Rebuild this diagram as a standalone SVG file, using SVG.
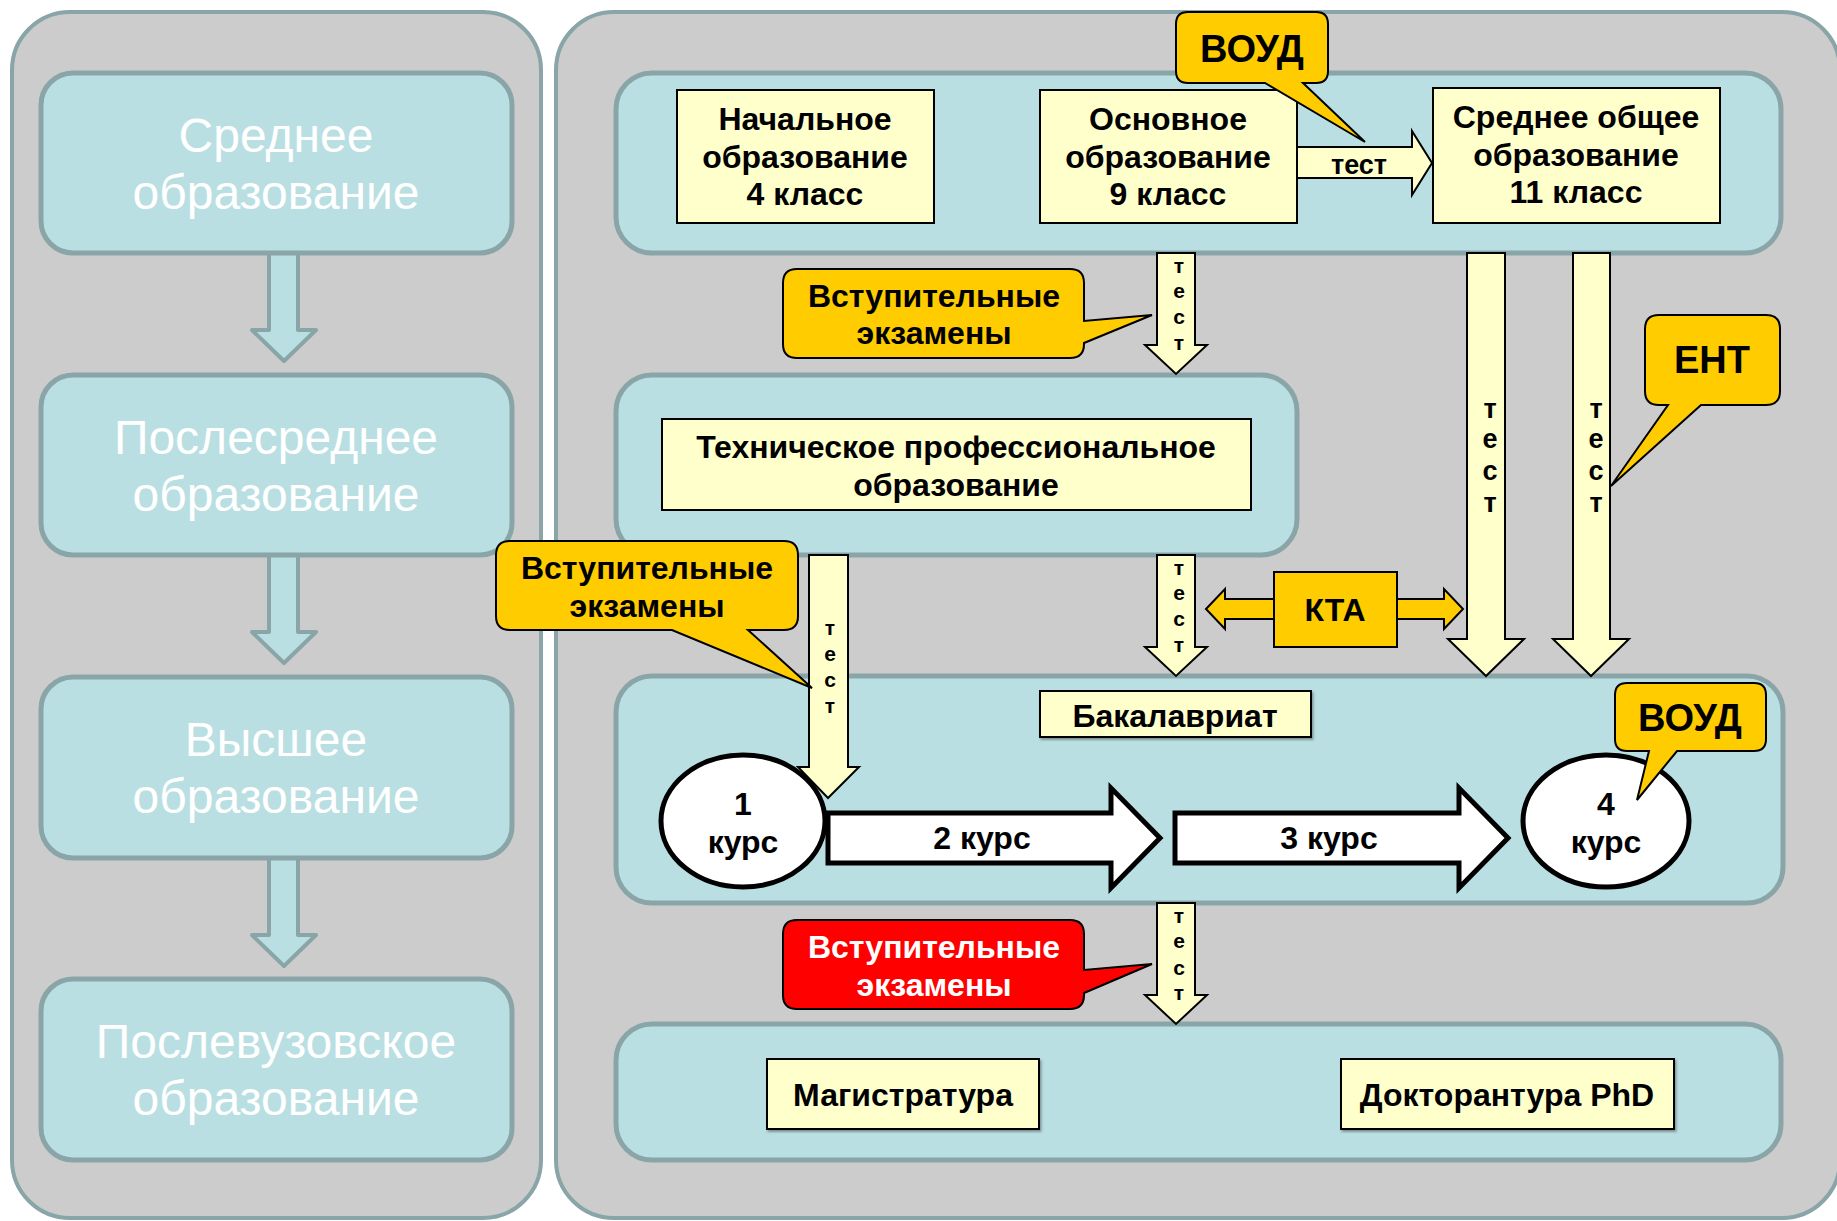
<svg xmlns="http://www.w3.org/2000/svg" width="1837" height="1221" viewBox="0 0 1837 1221">
<style>
.panel{fill:#cccccc;stroke:#8aa5a8;stroke-width:4}
.lbox{fill:#b9dfe2;stroke:#8aa5a8;stroke-width:5}
.ltxt{font-family:"Liberation Sans",Arial,sans-serif;font-size:48px;fill:#fff;text-anchor:middle}
.larrow{fill:#b9dfe2;stroke:#8aa5a8;stroke-width:4;stroke-linejoin:round}
.blue{fill:#b9dfe2;stroke:#8aa5a8;stroke-width:5}
.yb{fill:#ffffcc;stroke:#000;stroke-width:2}
.t{font-family:"Liberation Sans",Arial,sans-serif;font-weight:bold;font-size:32px;fill:#000;text-anchor:middle}
.tw{fill:#fff}
.big{font-size:38px}
.sm{font-size:21px}
.md{font-size:32px}
.ts{font-size:27px}
.callout{fill:#ffcc00;stroke:#000;stroke-width:2}
.red{fill:#ff0000}
.ya{fill:#ffffcc;stroke:#000;stroke-width:2;stroke-linejoin:miter}
.kta{fill:#ffcc00;stroke:#000;stroke-width:2}
.wa{fill:#fff;stroke:#000;stroke-width:5;stroke-linejoin:miter}
.circ{fill:#fff;stroke:#000;stroke-width:5}
</style>
<defs>
<filter id="sh" x="-5%" y="-5%" width="110%" height="120%">
<feDropShadow dx="1.5" dy="2" stdDeviation="0.8" flood-color="#444" flood-opacity="0.5"/>
</filter>
</defs>
<rect width="1837" height="1221" fill="#fff"/>

<g id="left-panel">
<rect class="panel" x="12" y="12" width="529" height="1206" rx="58"/>
</g>
<g id="right-panel">
<rect class="panel" x="556" y="12" width="1284" height="1206" rx="58"/>
</g>

<g id="left-connectors">
<path class="larrow" d="M269,251 V330 H252 L284,361 L316,330 H298 V251"/>
<path class="larrow" d="M269,553 V632 H252 L284,663 L316,632 H298 V553"/>
<path class="larrow" d="M269,856 V935 H252 L284,966 L316,935 H298 V856"/>
</g>

<g id="l-srednee">
<rect class="lbox" x="41" y="73" width="471" height="180" rx="32"/>
<text class="ltxt" x="276" y="152">Среднее</text>
<text class="ltxt" x="276" y="209">образование</text>
</g>
<g id="l-poslesrednee">
<rect class="lbox" x="41" y="375" width="471" height="180" rx="32"/>
<text class="ltxt" x="276" y="454">Послесреднее</text>
<text class="ltxt" x="276" y="511">образование</text>
</g>
<g id="l-vysshee">
<rect class="lbox" x="41" y="677" width="471" height="181" rx="32"/>
<text class="ltxt" x="276" y="756">Высшее</text>
<text class="ltxt" x="276" y="813">образование</text>
</g>
<g id="l-poslevuz">
<rect class="lbox" x="41" y="979" width="471" height="181" rx="32"/>
<text class="ltxt" x="276" y="1058">Послевузовское</text>
<text class="ltxt" x="276" y="1115">образование</text>
</g>

<g id="school">
<rect class="blue" x="616" y="73" width="1165" height="180" rx="36"/>
</g>
<g id="nachalnoe">
<rect class="yb" x="677" y="90" width="257" height="133"/>
<text class="t" x="805" y="130">Начальное</text>
<text class="t" x="805" y="168">образование</text>
<text class="t" x="805" y="205">4 класс</text>
</g>
<g id="osnovnoe">
<rect class="yb" x="1040" y="90" width="257" height="133"/>
<text class="t" x="1168" y="130">Основное</text>
<text class="t" x="1168" y="168">образование</text>
<text class="t" x="1168" y="205">9 класс</text>
</g>
<g id="srednee-obshee">
<rect class="yb" x="1433" y="88" width="287" height="135"/>
<text class="t" x="1576" y="128">Среднее общее</text>
<text class="t" x="1576" y="166">образование</text>
<text class="t" x="1576" y="203">11 класс</text>
</g>

<g id="tech">
<rect class="blue" x="616" y="375" width="681" height="180" rx="36"/>
<rect class="yb" x="662" y="419" width="589" height="91"/>
<text class="t" x="956" y="458">Техническое профессиональное</text>
<text class="t" x="956" y="496">образование</text>
</g>

<g id="bakalavriat">
<rect class="blue" x="616" y="676" width="1167" height="227" rx="36"/>
<rect class="yb" x="1040" y="691" width="271" height="46" filter="url(#sh)"/>
<text class="t md" x="1175" y="727">Бакалавриат</text>
</g>
<g id="kurs1">
<ellipse class="circ" cx="743" cy="821" rx="82" ry="66"/>
<text class="t md" x="743" y="815">1</text>
<text class="t md" x="743" y="853">курс</text>
</g>
<g id="kurs4">
<ellipse class="circ" cx="1606" cy="821" rx="83" ry="66"/>
<text class="t md" x="1606" y="815">4</text>
<text class="t md" x="1606" y="853">курс</text>
</g>

<g id="postgrad">
<rect class="blue" x="616" y="1024" width="1165" height="136" rx="36"/>
</g>
<g id="magistratura">
<rect class="yb" x="767" y="1059" width="272" height="70" filter="url(#sh)"/>
<text class="t md" x="903" y="1106">Магистратура</text>
</g>
<g id="doktorantura">
<rect class="yb" x="1341" y="1059" width="333" height="70" filter="url(#sh)"/>
<text class="t md" x="1507" y="1106">Докторантура PhD</text>
</g>

<g id="connectors">
<path class="ya" d="M1297,147 H1412 V131 L1432,163 L1412,195 V178 H1297 Z"/>
<text class="t ts" x="1359" y="174">тест</text>

<path class="ya" d="M1157,253 V345 H1145 L1176,374 L1207,345 H1195 V253 Z"/>
<text class="t sm"><tspan x="1179" y="273">т</tspan><tspan x="1179" y="298">е</tspan><tspan x="1179" y="324">с</tspan><tspan x="1179" y="350">т</tspan></text>

<path class="ya" d="M1157,555 V647 H1145 L1176,676 L1207,647 H1195 V555 Z"/>
<text class="t sm"><tspan x="1179" y="575">т</tspan><tspan x="1179" y="600">е</tspan><tspan x="1179" y="626">с</tspan><tspan x="1179" y="652">т</tspan></text>

<path class="ya" d="M1157,903 V995 H1145 L1176,1024 L1207,995 H1195 V903 Z"/>
<text class="t sm"><tspan x="1179" y="923">т</tspan><tspan x="1179" y="948">е</tspan><tspan x="1179" y="975">с</tspan><tspan x="1179" y="1000">т</tspan></text>

<path class="ya" d="M809,555 V767 H798 L828,798 L859,767 H848 V555 Z"/>
<text class="t sm"><tspan x="830" y="635">т</tspan><tspan x="830" y="661">е</tspan><tspan x="830" y="687">с</tspan><tspan x="830" y="713">т</tspan></text>

<path class="ya" d="M1467,253 V639 H1448 L1486,676 L1524,639 H1505 V253 Z"/>
<text class="t ts"><tspan x="1490" y="418">т</tspan><tspan x="1490" y="448">е</tspan><tspan x="1490" y="480">с</tspan><tspan x="1490" y="512">т</tspan></text>

<path class="ya" d="M1573,253 V639 H1553 L1591,676 L1629,639 H1610 V253 Z"/>
<text class="t ts"><tspan x="1596" y="418">т</tspan><tspan x="1596" y="448">е</tspan><tspan x="1596" y="480">с</tspan><tspan x="1596" y="512">т</tspan></text>

<path class="kta" d="M1206,609 L1225,589 V599 H1444 V589 L1463,609 L1444,629 V619 H1225 V629 Z"/>

<path class="wa" d="M828,813 H1111 V788 L1160,838 L1111,888 V863 H828 Z"/>
<text class="t md" x="982" y="849">2 курс</text>
<path class="wa" d="M1175,813 H1459 V788 L1508,838 L1459,888 V863 H1175 Z"/>
<text class="t md" x="1329" y="849">3 курс</text>
</g>

<g id="kta">
<rect class="kta" x="1274" y="572" width="123" height="75"/>
<text class="t" x="1335" y="621">КТА</text>
</g>

<g id="callout-voud-top">
<path class="callout" d="M1188,12 H1316 Q1328,12 1328,24 V71 Q1328,83 1316,83 H1303 L1365,142 L1265,83 H1188 Q1176,83 1176,71 V24 Q1176,12 1188,12 Z"/>
<text class="t big" x="1252" y="62">ВОУД</text>
</g>
<g id="callout-exam1">
<path class="callout" d="M797,269 H1070 Q1084,269 1084,283 V321 L1152,315 L1084,343 V344 Q1084,358 1070,358 H797 Q783,358 783,344 V283 Q783,269 797,269 Z"/>
<text class="t" x="934" y="307">Вступительные</text>
<text class="t" x="934" y="344">экзамены</text>
</g>
<g id="callout-exam2">
<path class="callout" d="M510,541 H784 Q798,541 798,555 V616 Q798,630 784,630 H748 L812,688 L672,630 H510 Q496,630 496,616 V555 Q496,541 510,541 Z"/>
<text class="t" x="647" y="579">Вступительные</text>
<text class="t" x="647" y="617">экзамены</text>
</g>
<g id="callout-ent">
<path class="callout" d="M1659,315 H1766 Q1780,315 1780,329 V391 Q1780,405 1766,405 H1701 L1611,486 L1668,405 H1659 Q1645,405 1645,391 V329 Q1645,315 1659,315 Z"/>
<text class="t big" x="1712" y="373">ЕНТ</text>
</g>
<g id="callout-voud-bottom">
<path class="callout" d="M1627,683 H1754 Q1766,683 1766,695 V739 Q1766,751 1754,751 H1677 L1637,800 L1649,751 H1627 Q1615,751 1615,739 V695 Q1615,683 1627,683 Z"/>
<text class="t big" x="1690" y="731">ВОУД</text>
</g>
<g id="callout-exam3">
<path class="callout red" d="M797,920 H1070 Q1084,920 1084,934 V970 L1152,964 L1084,993 V995 Q1084,1009 1070,1009 H797 Q783,1009 783,995 V934 Q783,920 797,920 Z"/>
<text class="t tw" x="934" y="958">Вступительные</text>
<text class="t tw" x="934" y="996">экзамены</text>
</g>
</svg>
